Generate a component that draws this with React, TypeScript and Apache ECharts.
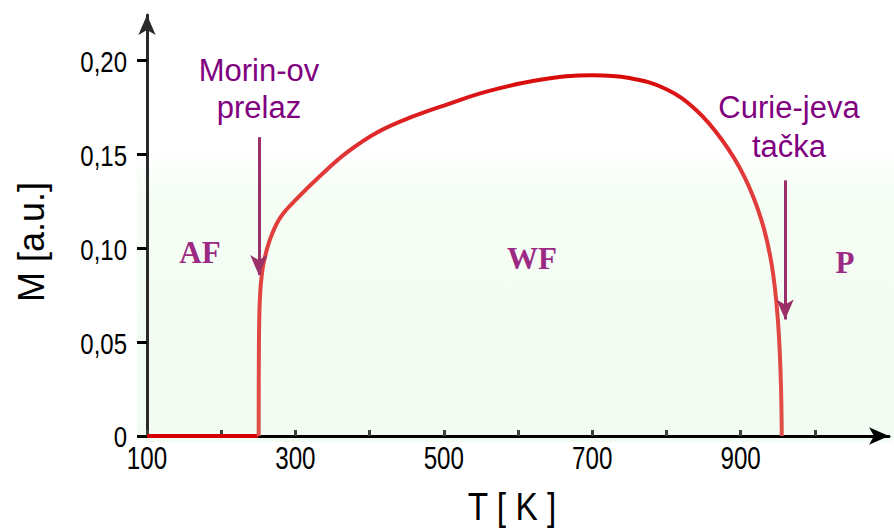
import React, { useEffect, useRef } from "react";
import * as echarts from "echarts";

// Baseline (antiferromagnetic region, M = 0)
const T_BASE = [100, 250];
const M_BASE = [0, 0];

// Magnetization curve M(T)
const T_CURVE = [250.5, 250.8, 252, 255, 260, 268, 280, 300, 335, 370, 410, 455, 505, 560, 630, 700, 750, 800, 840, 875, 905, 928, 942, 950, 954, 955.5];
const M_CURVE = [0, 0.045, 0.072, 0.087, 0.097, 0.107, 0.1165, 0.1255, 0.139, 0.151, 0.1615, 0.1695, 0.1765, 0.1835, 0.1895, 0.192, 0.1905, 0.1845, 0.1735, 0.1575, 0.138, 0.115, 0.091, 0.063, 0.032, 0];

// Arrows (T position, start M, tip M)
const ARROW_T = [250.7, 960];
const ARROW_START = [0.159, 0.136];
const ARROW_TIP = [0.0856, 0.062];

// Axis ticks / labels
const X_TICKS = [100, 200, 300, 400, 500, 600, 700, 800, 900, 1000];
const X_LABELS = [100, 300, 500, 700, 900];
const Y_TICKS = [0, 0.05, 0.1, 0.15, 0.2];

export default function App() {
  const ref = useRef<HTMLDivElement>(null);

  useEffect(() => {
    if (!ref.current) return;
    const chart = echarts.init(ref.current, null, { renderer: "svg" });

    const base = T_BASE.map((t, i) => [t, M_BASE[i]]);
    const curve = T_CURVE.map((t, i) => [t, M_CURVE[i]]);
    const arrows = ARROW_T.map((t, i) => [
      { coord: [t, ARROW_START[i]] },
      { coord: [t, ARROW_TIP[i]] },
    ]);

    const sans = '"Liberation Sans", Arial, sans-serif';
    const serif = '"Liberation Serif", "Times New Roman", serif';
    const purple = "#800080";
    const phase = "#9c2a85";

    chart.setOption({
      animation: false,
      backgroundColor: "#ffffff",
      grid: { left: 147, right: 5, top: 15, bottom: 92, containLabel: false },
      xAxis: {
        type: "value",
        min: 100,
        max: 1100,
        interval: 100,
        splitLine: { show: false },
        axisLine: {
          show: true,
          onZero: false,
          symbol: ["none", "arrow"],
          symbolSize: [13, 20],
          lineStyle: { color: "#000", width: 3 },
        },
        axisTick: {
          show: true,
          inside: true,
          length: 6,
          customValues: X_TICKS,
          lineStyle: { color: "#3a443a", width: 3 },
        },
        axisLabel: { show: false },
      },
      yAxis: {
        type: "value",
        min: 0,
        max: 0.224,
        interval: 0.05,
        splitLine: { show: false },
        axisLine: {
          show: true,
          onZero: false,
          symbol: ["none", "arrow"],
          symbolSize: [13, 20],
          lineStyle: { color: "#2a2a2a", width: 3 },
        },
        axisTick: {
          show: true,
          inside: false,
          length: 10,
          customValues: Y_TICKS,
          lineStyle: { color: "#000", width: 3 },
        },
        axisLabel: { show: false },
      },
      series: [
        {
          type: "line",
          data: base,
          symbol: "none",
          z: 3,
          lineStyle: { color: "#d40000", width: 4 },
        },
        {
          type: "line",
          data: curve,
          symbol: "none",
          smooth: 0.4,
          z: 4,
          lineStyle: {
            width: 4,
            color: new echarts.graphic.LinearGradient(0, 0, 0, 1, [
              { offset: 0, color: "#d80a0a" },
              { offset: 0.25, color: "#e2383a" },
              { offset: 1, color: "#e05048" },
            ]),
          },
        },
        {
          type: "line",
          data: [],
          symbol: "none",
          z: 5,
          markLine: {
            silent: true,
            symbol: ["none", "arrow"],
            symbolSize: [13, 20],
            label: { show: false },
            lineStyle: { color: "#9b3068", width: 3, type: "solid" },
            emphasis: { disabled: true },
            data: arrows,
          },
        },
      ],
    });

    // Tick labels in a condensed look, placed from the axes' own scales
    const y0 = chart.convertToPixel({ yAxisIndex: 0 }, 0) as number;
    const xLeft = chart.convertToPixel({ xAxisIndex: 0 }, 100) as number;
    const xLabelTexts = X_LABELS.map((v) => ({
      type: "text",
      z: 100,
      x: chart.convertToPixel({ xAxisIndex: 0 }, v) as number,
      y: y0 + 22,
      scaleX: 0.78,
      style: { text: String(v), font: `31px ${sans}`, fill: "#000", align: "center", verticalAlign: "middle" },
    }));
    const yLabelTexts = Y_TICKS.map((v) => ({
      type: "text",
      z: 100,
      x: xLeft - 20,
      y: (chart.convertToPixel({ yAxisIndex: 0 }, v) as number) + 1,
      scaleX: 0.8,
      style: {
        text: v === 0 ? "0" : v.toFixed(2).replace(".", ","),
        font: `30px ${sans}`,
        fill: "#000",
        align: "right",
        verticalAlign: "middle",
      },
    }));

    chart.setOption({
      graphic: [
        {
          type: "rect",
          z: -10,
          silent: true,
          shape: { x: 137, y: 150, width: 760, height: 292, r: 10 },
          style: {
            fill: new echarts.graphic.LinearGradient(0, 0, 0, 1, [
              { offset: 0, color: "rgba(245,253,245,0)" },
              { offset: 0.15, color: "rgba(245,253,245,1)" },
              { offset: 1, color: "rgba(242,252,242,1)" },
            ]),
          },
        },
        ...xLabelTexts,
        ...yLabelTexts,
        { type: "text", z: 100, x: 259, y: 70, style: { text: "Morin-ov", font: `31px ${sans}`, fill: purple, align: "center", verticalAlign: "middle" } },
        { type: "text", z: 100, x: 259, y: 107, style: { text: "prelaz", font: `31px ${sans}`, fill: purple, align: "center", verticalAlign: "middle" } },
        { type: "text", z: 100, x: 789, y: 107, style: { text: "Curie-jeva", font: `31px ${sans}`, fill: purple, align: "center", verticalAlign: "middle" } },
        { type: "text", z: 100, x: 789, y: 146, style: { text: "tačka", font: `31px ${sans}`, fill: purple, align: "center", verticalAlign: "middle" } },
        { type: "text", z: 100, x: 200, y: 252, style: { text: "AF", font: `bold 31px ${serif}`, fill: phase, align: "center", verticalAlign: "middle" } },
        { type: "text", z: 100, x: 532, y: 258, style: { text: "WF", font: `bold 31px ${serif}`, fill: phase, align: "center", verticalAlign: "middle" } },
        { type: "text", z: 100, x: 845, y: 262, style: { text: "P", font: `bold 31px ${serif}`, fill: phase, align: "center", verticalAlign: "middle" } },
        { type: "text", z: 100, x: 512, y: 507, scaleX: 0.88, style: { text: "T [ K ]", font: `38px ${sans}`, fill: "#000", align: "center", verticalAlign: "middle" } },
        { type: "text", z: 100, x: 31, y: 242, rotation: Math.PI / 2, style: { text: "M [a.u.]", font: `36px ${sans}`, fill: "#000", align: "center", verticalAlign: "middle" } },
      ],
    });

    return () => chart.dispose();
  }, []);

  return <div ref={ref} style={{ width: 894, height: 528, position: "absolute", left: 0, top: 0 }} />;
}
